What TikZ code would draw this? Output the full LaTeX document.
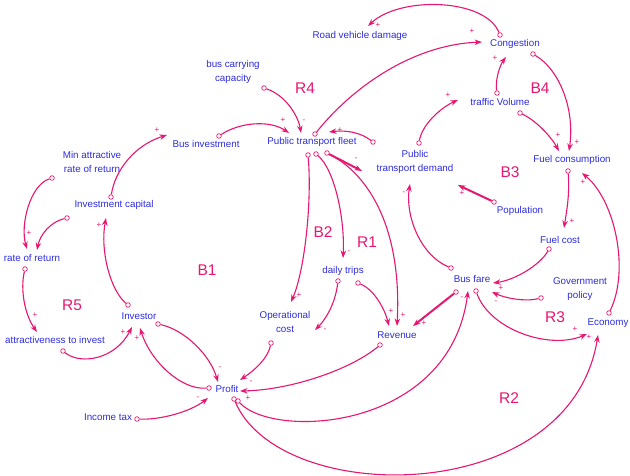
\documentclass[tikz,border=0pt]{standalone}
\usepackage{fontspec}
\setmainfont{Liberation Sans}
\usetikzlibrary{arrows.meta}
\definecolor{txtblue}{RGB}{45,45,225}
\definecolor{lnkpink}{RGB}{232,22,112}
\tikzset{
  lbl/.style={text=txtblue, font=\fontsize{9.8}{13.5}\selectfont, inner sep=0pt, align=center},
  loopl/.style={text=lnkpink, font=\fontsize{15.5}{17}\selectfont, inner sep=0pt},
  sgn/.style={text=lnkpink, font=\fontsize{8}{9}\selectfont, inner sep=0pt},
  tailc/.style={circle, draw=lnkpink, line width=0.7pt, minimum size=4.6pt, inner sep=0pt},
  lnk/.style={draw=lnkpink, line width=1.1pt, -{Stealth[length=7.5pt,width=5.5pt]}},
  lnkthick/.style={lnk, line width=2pt}
}
\begin{document}
\begin{tikzpicture}[x=1pt,y=-1pt]
\path[use as bounding box, fill=white] (0,0) rectangle (630,475);

% variables
\node[lbl] (rvd) at (360,36) {Road vehicle damage};
\node[lbl] (cong) at (515,44) {Congestion};
\node[lbl] (bcc) at (233,72) {bus carrying\\capacity};
\node[lbl] (fleet) at (312,142) {Public transport fleet};
\node[lbl] (businv) at (206,144) {Bus investment};
\node[lbl] (tv) at (500,102) {traffic Volume};
\node[lbl] (mar) at (92,162) {Min attractive\\rate of return};
\node[lbl] (ic) at (114,205) {Investment capital};
\node[lbl] (ror) at (32,258) {rate of return};
\node[lbl] (atti) at (55,340) {attractiveness to invest};
\node[lbl] (inv) at (139,316) {Investor};
\node[lbl] (opc) at (285,322) {Operational\\cost};
\node[lbl] (profit) at (227,389) {Profit};
\node[lbl] (itax) at (108,417) {Income tax};
\node[lbl] (dt) at (343,271) {daily trips};
\node[lbl] (rev) at (397,335) {Revenue};
\node[lbl] (fare) at (472,279) {Bus fare};
\node[lbl] (fcost) at (560,240) {Fuel cost};
\node[lbl] (gov) at (580,289) {Government\\policy};
\node[lbl] (eco) at (608,323) {Economy};
\node[lbl] (ptd) at (415,162) {Public\\transport demand};
\node[lbl] (pop) at (520,211) {Population};
\node[lbl] (fc) at (572,160) {Fuel consumption};

% loop labels
\node[loopl] (lR4) at (305,88) {R4};
\node[loopl] (lB4) at (540,88) {B4};
\node[loopl] (lB3) at (510,172) {B3};
\node[loopl] (lB2) at (323,232) {B2};
\node[loopl] (lR1) at (367,242) {R1};
\node[loopl] (lB1) at (207,270) {B1};
\node[loopl] (lR5) at (72,305) {R5};
\node[loopl] (lR3) at (555,317) {R3};
\node[loopl] (lR2) at (509,398) {R2};

% tail circles
\node[tailc] (t1) at (500,35) {};
\node[tailc] (t2) at (315,134) {};
\node[tailc] (t3) at (497,93) {};
\node[tailc] (t4) at (533,54) {};
\node[tailc] (t5) at (520,113) {};
\node[tailc] (t6) at (419,143) {};
\node[tailc] (t7) at (494,202) {};
\node[tailc] (t8) at (451,268) {};
\node[tailc] (t9) at (568,171) {};
\node[tailc] (t10) at (609,313) {};
\node[tailc] (t11) at (549,249) {};
\node[tailc] (t12) at (541,298) {};
\node[tailc] (t13) at (476,291) {};
\node[tailc] (t14) at (456,292) {};
\node[tailc] (t15) at (238,401) {};
\node[tailc] (t16) at (234,399) {};
\node[tailc] (t17) at (380,345) {};
\node[tailc] (t18) at (271,343) {};
\node[tailc] (t19) at (158,324) {};
\node[tailc] (t20) at (209,388) {};
\node[tailc] (t21) at (63,351) {};
\node[tailc] (t22) at (137,419) {};
\node[tailc] (t23) at (25,269) {};
\node[tailc] (t24) at (52,178) {};
\node[tailc] (t25) at (67,218) {};
\node[tailc] (t26) at (128,305) {};
\node[tailc] (t27) at (111,197) {};
\node[tailc] (t28) at (219,136) {};
\node[tailc] (t29) at (264,88) {};
\node[tailc] (t30) at (373,142) {};
\node[tailc] (t31) at (327,153) {};
\node[tailc] (t33) at (316,154) {};
\node[tailc] (t34) at (308,155) {};
\node[tailc] (t35) at (338,281) {};
\node[tailc] (t36) at (358,283) {};
\coordinate (fleetout) at (362,171);

% connectors
\draw[lnk] (t1) .. controls (485,-2) and (400,-4) .. ([shift={(8,-10)}]rvd.center);
\draw[lnk] (t2) .. controls (350,90) and (410,45) .. ([shift={(-33,-2)}]cong.center);
\draw[lnk] (t3) .. controls (495,80) and (500,65) .. ([shift={(-9,13)}]cong.center);
\draw[lnk] (t4) .. controls (560,70) and (575,110) .. ([shift={(-3,-9)}]fc.center);
\draw[lnk] (t5) .. controls (535,120) and (550,135) .. ([shift={(-13,-9)}]fc.center);
\draw[lnk] (t6) .. controls (422,125) and (440,108) .. ([shift={(-42,-2)}]tv.center);
\draw[lnkthick] (t7) -- ([shift={(43,23)}]ptd.center);
\draw[lnk] (t8) .. controls (420,255) and (405,215) .. ([shift={(-5,22)}]ptd.center);
\draw[lnk] (t9) .. controls (570,195) and (566,215) .. ([shift={(4,-12)}]fcost.center);
\draw[lnk] (t10) .. controls (630,270) and (615,200) .. ([shift={(10,13)}]fc.center);
\draw[lnk] (t11) .. controls (540,265) and (515,280) .. ([shift={(21,4)}]fare.center);
\draw[lnk] (t12) .. controls (525,302) and (505,298) .. ([shift={(20,13)}]fare.center);
\draw[lnk] (t13) .. controls (490,330) and (550,350) .. ([shift={(-21,11)}]eco.center);
\draw[lnkthick] (t14) -- ([shift={(16,-9)}]rev.center);
\draw[lnk] (t15) .. controls (275,440) and (450,430) .. ([shift={(-4,12)}]fare.center);
\draw[lnk] (t16) .. controls (280,508) and (570,508) .. ([shift={(-10,12)}]eco.center);
\draw[lnk] (t17) .. controls (350,370) and (290,390) .. ([shift={(13,2)}]profit.center);
\draw[lnk] (t18) .. controls (268,358) and (255,370) .. ([shift={(13,-9)}]profit.center);
\draw[lnk] (t19) .. controls (185,330) and (210,355) .. ([shift={(-9,-7)}]profit.center);
\draw[lnk] (t20) .. controls (180,390) and (150,360) .. ([shift={(1,12)}]inv.center);
\draw[lnk] (t21) .. controls (80,365) and (115,360) .. ([shift={(-7,11)}]inv.center);
\draw[lnk] (t22) .. controls (160,420) and (190,412) .. ([shift={(-19,9)}]profit.center);
\draw[lnk] (t23) .. controls (20,290) and (25,315) .. ([shift={(-18,-8)}]atti.center);
\draw[lnk] (t24) .. controls (30,185) and (20,225) .. ([shift={(-5,-9)}]ror.center);
\draw[lnk] (t25) .. controls (50,222) and (40,235) .. ([shift={(5,-8)}]ror.center);
\draw[lnk] (t26) .. controls (110,290) and (100,250) .. ([shift={(-8,13)}]ic.center);
\draw[lnk] (t27) .. controls (115,170) and (135,145) .. ([shift={(-39,-9)}]businv.center);
\draw[lnk] (t28) .. controls (240,122) and (270,120) .. ([shift={(-23,-9)}]fleet.center);
\draw[lnk] (t29) .. controls (285,95) and (298,115) .. ([shift={(-11,-9)}]fleet.center);
\draw[lnk] (t30) .. controls (360,132) and (345,130) .. ([shift={(17,-10)}]fleet.center);
\draw[lnkthick] (t31) -- (fleetout);
\draw[lnk] (t31) .. controls (370,175) and (402,230) .. ([shift={(0,-9)}]rev.center);
\draw[lnk] (t33) .. controls (335,170) and (345,220) .. ([shift={(0,-13)}]dt.center);
\draw[lnk] (t34) .. controls (312,200) and (305,270) .. ([shift={(6,-20)}]opc.center);
\draw[lnk] (t35) .. controls (335,305) and (325,320) .. ([shift={(30,8)}]opc.center);
\draw[lnk] (t36) .. controls (375,290) and (385,310) .. ([shift={(-8,-9)}]rev.center);

% polarity signs
\node[sgn] (s1) at (378,25) {+};
\node[sgn] (s2) at (472,31) {+};
\node[sgn] (s3) at (495,58) {+};
\node[sgn] (s4) at (577,142) {+};
\node[sgn] (s5) at (558,135) {+};
\node[sgn] (s6) at (448,95) {+};
\node[sgn] (s7) at (462,193) {+};
\node[sgn] (s8) at (404,193) {-};
\node[sgn] (s9) at (572,221) {+};
\node[sgn] (s10) at (583,182) {+};
\node[sgn] (s11) at (501,288) {+};
\node[sgn] (s12) at (496,302) {-};
\node[sgn] (s13) at (575,329) {+};
\node[sgn] (s14) at (424,323) {+};
\node[sgn] (s15) at (462,298) {-};
\node[sgn] (s16) at (589,337) {+};
\node[sgn] (s17) at (248,398) {+};
\node[sgn] (s18) at (251,382) {-};
\node[sgn] (s19) at (220,368) {-};
\node[sgn] (s20) at (137,338) {+};
\node[sgn] (s21) at (123,332) {+};
\node[sgn] (s22) at (198,398) {-};
\node[sgn] (s23) at (35,315) {+};
\node[sgn] (s24) at (29,233) {+};
\node[sgn] (s26) at (99,225) {+};
\node[sgn] (s27) at (157,130) {+};
\node[sgn] (s28) at (283,120) {+};
\node[sgn] (s29) at (304,121) {-};
\node[sgn] (s30) at (340,130) {+};
\node[sgn] (s31) at (356,159) {-};
\node[sgn] (s32) at (403,315) {+};
\node[sgn] (s33) at (349,252) {-};
\node[sgn] (s34) at (299,295) {+};
\node[sgn] (s35) at (325,330) {-};
\node[sgn] (s36) at (391,311) {+};
\end{tikzpicture}
\end{document}
